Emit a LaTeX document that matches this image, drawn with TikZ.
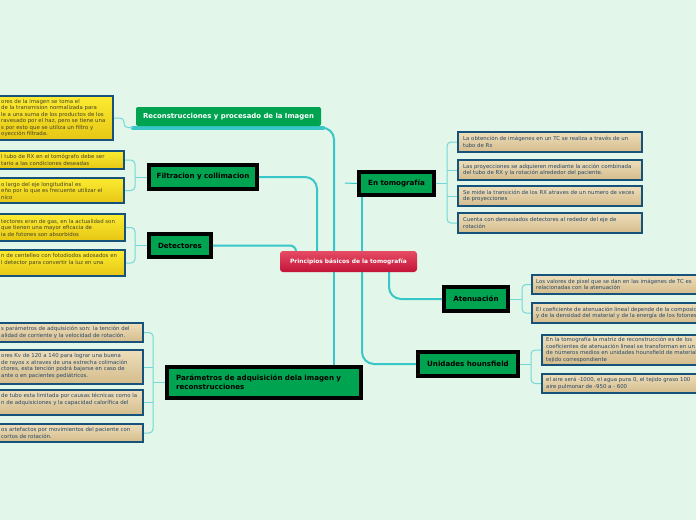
\documentclass[tikz,border=0pt]{standalone}
\usepackage{fontspec}
\setmainfont{DejaVu Sans}
\usetikzlibrary{calc}
\definecolor{bgc}{RGB}{226,247,233}
\definecolor{lnc}{RGB}{56,198,200}
\definecolor{lnl}{RGB}{115,215,215}
\definecolor{grn}{RGB}{0,163,80}
\definecolor{ylw1}{RGB}{252,236,50}
\definecolor{ylw2}{RGB}{230,198,20}
\definecolor{tan1}{RGB}{238,222,186}
\definecolor{tan2}{RGB}{212,188,140}
\definecolor{bbd}{RGB}{22,82,122}
\definecolor{ytx}{RGB}{70,68,40}
\definecolor{ttx}{RGB}{40,72,105}
\definecolor{red1}{RGB}{230,76,100}
\definecolor{red2}{RGB}{194,20,56}
\pgfdeclarelayer{bg}\pgfsetlayers{bg,main}
\begin{document}
\begin{tikzpicture}[x=1pt,y=-1pt,
  mainbox/.style={draw=black, line width=4pt, fill=grn, inner sep=0pt, font=\fontsize{7.1}{9}\selectfont\bfseries, text=black},
  reconbox/.style={fill=grn, rounded corners=2pt, inner sep=0pt, font=\fontsize{6.9}{9}\selectfont\bfseries, text=white},
  centerbox/.style={top color=red1, bottom color=red2, rounded corners=3pt, inner sep=0pt, font=\fontsize{5.9}{7}\selectfont\bfseries, text=white},
  yleaf/.style={draw=bbd, line width=2pt, top color=ylw1, bottom color=ylw2, inner sep=0pt},
  tleaf/.style={draw=bbd, line width=2pt, top color=tan1, bottom color=tan2, inner sep=0pt},
  ytext/.style={align=left, inner sep=0pt, anchor=west, text=ytx, font=\fontsize{5.4}{6.5}\selectfont},
  ttext/.style={align=left, inner sep=0pt, anchor=west, text=ttx, font=\fontsize{5.4}{6.5}\selectfont},
  conn/.style={draw=lnc, line width=2pt, rounded corners=12pt},
  brk/.style={draw=lnl, line width=1pt, rounded corners=4pt}]
\useasboundingbox (0,0) rectangle (696,520);
\clip (0,0) rectangle (696,520);

% central and main nodes
\node[centerbox, minimum width=137, minimum height=21] (c) at (348.5,261.5) {Principios básicos de la tomografía};
\node[reconbox, minimum width=185, minimum height=19] (rec) at (228.5,116.5) {Reconstrucciones y procesado de la Imagen};
\node[mainbox, minimum width=108, minimum height=24] (fil) at (203,177) {Filtracion y collimacion};
\node[mainbox, minimum width=62, minimum height=23] (det) at (180,245.5) {Detectores};
\node[mainbox, minimum width=194, minimum height=31, text width=176, align=left] (par) at (264,382.5) {Parámetros de adquisición dela imagen y\\reconstrucciones};
\node[mainbox, minimum width=75, minimum height=23] (ent) at (396.5,183.5) {En tomografía};
\node[mainbox, minimum width=64, minimum height=24] (ate) at (476,299) {Atenuación};
\node[mainbox, minimum width=100, minimum height=24] (uni) at (468,364) {Unidades hounsfield};

% left leaves
\node[yleaf, minimum width=117, minimum height=44] (l1) at (54.5,118) {};
\node[ytext] (l1t) at (1,118) {ores de la imagen se toma el\\de la transmision normalizada para\\le a una suma de los productos de los\\ravesado por el haz, pero se tiene una\\s por esto que se utiliza un filtro y\\oyección filtrada.};
\node[yleaf, minimum width=128, minimum height=18] (f1) at (60,160) {};
\node[ytext] (f1t) at (1,160) {l tubo de RX en el tomógrafo debe ser\\tario a las condiciones deseadas};
\node[yleaf, minimum width=128, minimum height=25] (f2) at (60,190.5) {};
\node[ytext] (f2t) at (1,190.5) {o largo del eje longitudinal es\\eño por lo que es frecuente utilizar el\\nico};
\node[yleaf, minimum width=129, minimum height=27] (d1) at (60.5,227.5) {};
\node[ytext] (d1t) at (1,227.5) {tectores eran de gas, en la actualidad son\\ que tienen una mayor eficacia de\\ia de fotones son absorbidos};
\node[yleaf, minimum width=129, minimum height=26] (d2) at (60.5,263) {};
\node[ytext] (d2t) at (1,259.5) {n de centelleo con fotodiodos adosados en\\l detector para convertir la luz en una};
\node[tleaf, minimum width=147, minimum height=19] (p1) at (69.5,332.5) {};
\node[ttext] (p1t) at (1,332.5) {s parámetros de adquisición son: la tención del\\alidad de corriente y la velocidad de rotación.};
\node[tleaf, minimum width=147, minimum height=34] (p2) at (69.5,367) {};
\node[ttext] (p2t) at (1,366) {ores Kv de 120 a 140 para lograr una buena\\de rayos x atraves de una estrecha colimación\\ctores, esta tención podrá bajarse en caso de\\ante o en pacientes pediátricos.};
\node[tleaf, minimum width=147, minimum height=25] (p3) at (69.5,402.5) {};
\node[ttext] (p3t) at (1,399.5) {de tubo esta limitada por causas técnicas como la\\n de adquisiciones y la capacidad calorífica del};
\node[tleaf, minimum width=147, minimum height=18] (p4) at (69.5,433) {};
\node[ttext] (p4t) at (1,433) {os artefactos por movimientos del paciente con\\ cortos de rotación.};

% right leaves
\node[tleaf, minimum width=184, minimum height=20] (e1) at (550,142) {};
\node[ttext] (e1t) at (463,142) {La obtención de imágenes en un TC se realiza a través de un\\tubo de Rx};
\node[tleaf, minimum width=184, minimum height=20] (e2) at (550,170) {};
\node[ttext] (e2t) at (463,170) {Las proyecciones se adquieren mediante la acción combinada\\del tubo de RX y la rotación alrededor del paciente.};
\node[tleaf, minimum width=184, minimum height=20] (e3) at (550,196) {};
\node[ttext] (e3t) at (463,196) {Se mide la transición de los RX atraves de un numero de veces\\de proyecciones};
\node[tleaf, minimum width=184, minimum height=20] (e4) at (550,223) {};
\node[ttext] (e4t) at (463,223) {Cuenta con demasiados detectores al rededor del eje de\\rotación};
\node[tleaf, minimum width=172, minimum height=19] (a1) at (618,284.5) {};
\node[ttext] (a1t) at (536,284.5) {Los valores de pixel que se dan en las imágenes de TC es\\relacionadas con la atenuación};
\node[tleaf, minimum width=172, minimum height=20] (a2) at (618,313) {};
\node[ttext] (a2t) at (536,313) {El coeficiente de atenuación lineal depende de la composición\\y de la densidad del material y de la energía de los fotones};
\node[tleaf, minimum width=162, minimum height=30] (u1) at (623,350) {};
\node[ttext] (u1t) at (546,350) {En la tomografía la matriz de reconstrucción es de los\\coeficientes de atenuación lineal se transforman en un\\de números medios en unidades hounsfield de material\\tejido correspondiente};
\node[tleaf, minimum width=162, minimum height=19] (u2) at (623,383.5) {};
\node[ttext] (u2t) at (546,383.5) {el aire será -1000, el agua pura 0, el tejido graso 100\\aire pulmonar de -950 a - 600};

\coordinate (xa) at (334,0);
\coordinate (xf) at (317,0);
\coordinate (xd) at (296,0);
\coordinate (xe) at (362,0);
\coordinate (xt) at (389,0);
\coordinate (rbw) at ($(rec.south west)+(-3,1.5)$);
\coordinate (rbe) at ($(rec.south east)+(2,1.5)$);
\coordinate (stub) at (345,183);

\begin{pgfonlayer}{bg}
\fill[bgc] (0,0) rectangle (696,520);
% bar under reconstrucciones
\draw[lnc, line width=4pt, line cap=round] (rbw) -- (rbe);
% main connectors
\draw[conn] (rbe) -- (334,127.5) -- (c.north -| xa);
\draw[conn] (c.south -| xa) -- (par.north -| xa);
\draw[conn] (fil.east) -- (317,177) -- (c.north -| xf);
\draw[conn, rounded corners=6pt] (det.east) -- (296,245.5) -- (c.north -| xd);
\draw[conn] (c.north -| xe) -- (ent.south -| xe);
\draw[conn] (c.south -| xe) -- (362,364) -- (uni.west);
\draw[conn] (c.south -| xt) -- (389,299) -- (ate.west);
\draw[lnc, line width=1pt] (stub) -- (ent.west);
% left brackets
\draw[brk] (l1.east) -- (124,118) -- (124,127.5) -- (rbw);
\draw[brk] (f1.east) -- (135,160) -- (135,190.5) -- (f2.east);
\draw[brk] (135,177) -- (fil.west);
\draw[brk] (d1.east) -- (135,227.5) -- (135,263) -- (d2.east);
\draw[brk] (135,245.5) -- (det.west);
\draw[brk] (p1.east) -- (153,332.5) -- (153,433) -- (p4.east);
\draw[brk] (p2.east) -- (153,367);
\draw[brk] (p3.east) -- (153,402.5);
\draw[brk] (153,382.5) -- (par.west);
% right brackets
\draw[brk] (ent.east) -- (447,183.5);
\draw[brk] (e1.west) -- (447,142) -- (447,223) -- (e4.west);
\draw[brk] (e2.west) -- (447,170);
\draw[brk] (e3.west) -- (447,196);
\draw[brk] (ate.east) -- (522,299);
\draw[brk] (a1.west) -- (522,284.5) -- (522,313) -- (a2.west);
\draw[brk] (uni.east) -- (531,364);
\draw[brk] (u1.west) -- (531,350) -- (531,383.5) -- (u2.west);
\end{pgfonlayer}
\end{tikzpicture}
\end{document}
